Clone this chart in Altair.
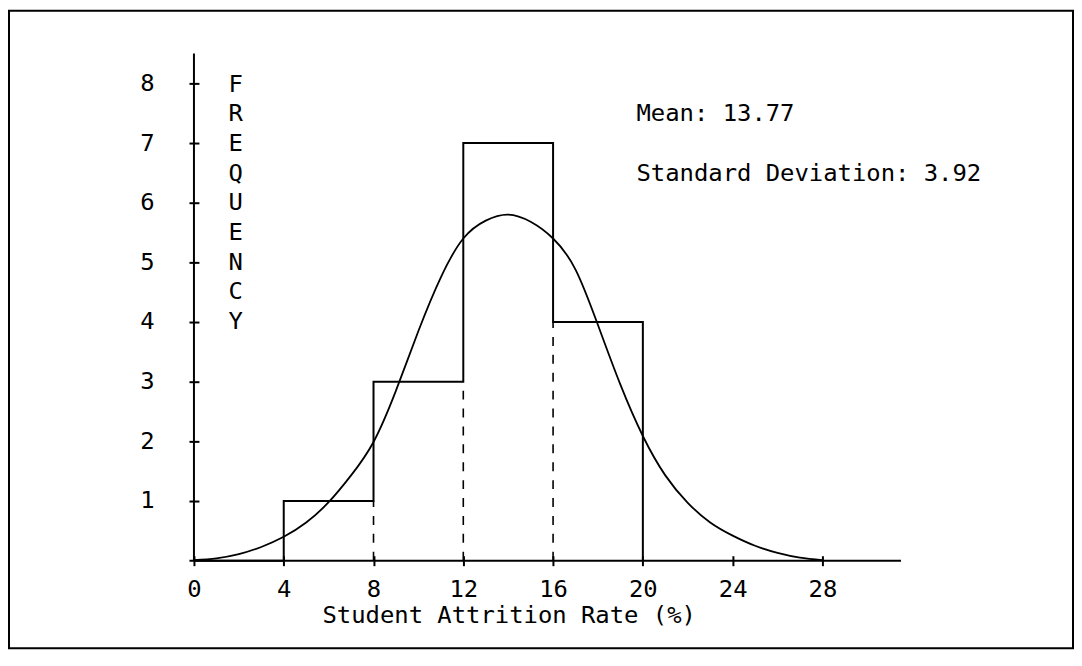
import altair as alt
import pandas as pd

# Histogram data
bin_edges = [4, 8, 12, 16, 20]
counts = [1, 3, 7, 4]

# Fitted normal curve
curve_x = list(range(0, 29))
curve_y = [0.01, 0.04, 0.11, 0.23, 0.40, 0.64, 0.98, 1.43, 1.99, 2.85, 3.85,
           4.75, 5.40, 5.70, 5.80, 5.68, 5.40, 4.88, 3.95, 2.95, 2.09, 1.43,
           0.97, 0.64, 0.42, 0.25, 0.13, 0.05, 0.01]

x_ticks = [0, 4, 8, 12, 16, 20, 24, 28]
y_ticks = [1, 2, 3, 4, 5, 6, 7, 8]

x_title = "Student Attrition Rate (%)"
y_letters = list("FREQUENCY")
mean_text = "Mean: 13.77"
sd_text = "Standard Deviation: 3.92"

FONT = "DejaVu Sans Mono"
FS = 24
W, H = 711, 510
XMAX, YMAX = 31.5, 8.5

# step outline
step_df = pd.DataFrame({
    "x": [0] + bin_edges,
    "y": [0] + counts + [0],
})
# dashed interior edges
inner = []
for i in range(1, len(bin_edges) - 1):
    inner.append({"x": bin_edges[i], "y": 0, "y2": min(counts[i - 1], counts[i])})
inner_df = pd.DataFrame(inner)
curve_df = pd.DataFrame({"x": curve_x, "y": curve_y})

xs = alt.Scale(domain=[0, XMAX], nice=False, zero=False)
ys = alt.Scale(domain=[0, YMAX], nice=False, zero=False)

x_axis = alt.Axis(values=x_ticks, domain=False, grid=False, tickSize=10, offset=-5,
                  tickWidth=2, tickColor="black", labelFont=FONT, labelFontSize=FS,
                  labelColor="black", labelPadding=12, title=None, labelFlush=False,
                  format="d")
y_axis = alt.Axis(values=y_ticks, domain=False, grid=False, tickSize=10, offset=-5,
                  tickWidth=2, tickColor="black", labelFont=FONT, labelFontSize=FS,
                  labelColor="black", labelPadding=35, title=None, format="d")

base = alt.Chart(step_df)

hist = base.mark_line(interpolate="step-after", color="black", strokeWidth=2).encode(
    x=alt.X("x:Q", scale=xs, axis=x_axis),
    y=alt.Y("y:Q", scale=ys, axis=y_axis),
)

dashed = alt.Chart(inner_df).mark_rule(color="black", strokeWidth=1.6, strokeDash=[9, 9]).encode(
    x=alt.X("x:Q", scale=xs),
    y=alt.Y("y:Q", scale=ys),
    y2="y2:Q",
)

curve = alt.Chart(curve_df).mark_line(color="black", strokeWidth=1.8, interpolate="natural").encode(
    x=alt.X("x:Q", scale=xs),
    y=alt.Y("y:Q", scale=ys),
)

one = alt.Data(values=[{"a": 1}])

x_line = alt.Chart(one).mark_rule(color="black", strokeWidth=2).encode(
    x=alt.datum(-0.2, scale=xs), x2=alt.datum(XMAX), y=alt.datum(0, scale=ys)
)
y_line = alt.Chart(one).mark_rule(color="black", strokeWidth=2).encode(
    x=alt.datum(0, scale=xs), y=alt.datum(0, scale=ys), y2=alt.datum(YMAX)
)

frame = alt.Chart(one).mark_rect(fill=None, stroke="black", strokeWidth=2).encode(
    x=alt.value(-186), x2=alt.value(884), y=alt.value(-43), y2=alt.value(598)
)

freq = alt.Chart(one).mark_text(font=FONT, fontSize=FS, align="center",
                                baseline="alphabetic", lineHeight=29.8, color="black").encode(
    x=alt.value(42), y=alt.value(38.4), text=alt.value(y_letters)
)

mean_t = alt.Chart(one).mark_text(font=FONT, fontSize=FS, align="left",
                                  baseline="alphabetic", color="black").encode(
    x=alt.value(445), y=alt.value(67.5), text=alt.value(mean_text)
)
sd_t = alt.Chart(one).mark_text(font=FONT, fontSize=FS, align="left",
                                baseline="alphabetic", color="black").encode(
    x=alt.value(445), y=alt.value(128.4), text=alt.value(sd_text)
)
xt = alt.Chart(one).mark_text(font=FONT, fontSize=FS, align="center",
                              baseline="alphabetic", color="black").encode(
    x=alt.value(317), y=alt.value(572.4), text=alt.value(x_title)
)

chart = alt.layer(frame, x_line, y_line, hist, dashed, curve, freq, mean_t, sd_t, xt).properties(
    width=W, height=H,
    autosize=alt.AutoSizeParams(type="none"),
    padding={"left": 187, "top": 44, "right": 174, "bottom": 88},
    background="white",
).configure_view(stroke=None)

chart.save("out.html", embed_options={"renderer": "svg", "actions": False})
